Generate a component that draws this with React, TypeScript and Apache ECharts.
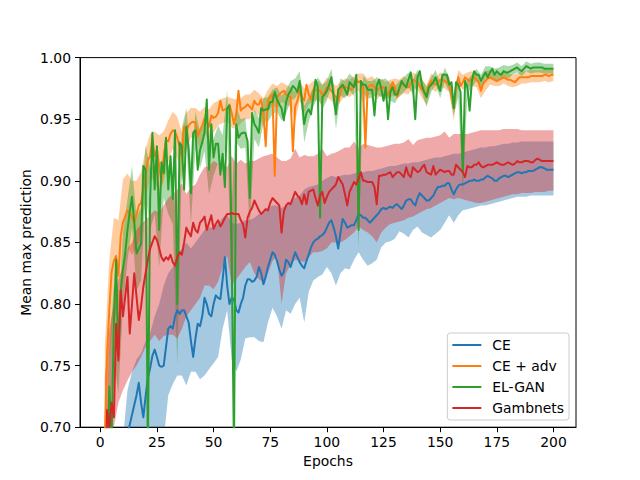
import React, { useEffect, useRef } from "react";
import * as echarts from "echarts";

// ---------- data ----------
const epochs = Array.from({ length: 200 }, (_, i) => i + 1);
const bandEpochs = Array.from({ length: 100 }, (_, i) => 2 * (i + 1));
const xTicks = [0, 25, 50, 75, 100, 125, 150, 175, 200];
const yTicks = [0.7, 0.75, 0.8, 0.85, 0.9, 0.95, 1.0];
const seriesNames = ["CE", "CE + adv", "EL-GAN", "Gambnets"];
const colors = ["#1f77b4", "#ff7f0e", "#2ca02c", "#d62728"];
const bandColors = ["rgba(31,119,180,0.4)", "rgba(255,127,14,0.4)", "rgba(44,160,44,0.4)", "rgba(214,39,40,0.4)"];

// CE mean (epochs 1..200)
const ce = [
  0.52,0.56,0.59,0.61,0.63,0.645,0.655,0.665,0.672,0.68,
  0.688,0.694,0.702,0.71,0.718,0.726,0.736,0.72,0.708,0.725,
  0.74,0.748,0.758,0.763,0.757,0.75,0.749,0.75,0.765,0.78,
  0.782,0.78,0.79,0.795,0.792,0.795,0.795,0.79,0.785,0.77,
  0.757,0.772,0.784,0.782,0.79,0.805,0.8,0.792,0.79,0.8,
  0.807,0.805,0.804,0.82,0.838,0.815,0.8,0.805,0.804,0.795,
  0.793,0.8,0.805,0.815,0.82,0.82,0.818,0.819,0.822,0.83,
  0.825,0.816,0.822,0.83,0.836,0.842,0.84,0.835,0.828,0.823,
  0.826,0.836,0.834,0.83,0.836,0.842,0.838,0.834,0.831,0.829,
  0.835,0.84,0.846,0.85,0.852,0.853,0.855,0.856,0.858,0.862,
  0.866,0.868,0.862,0.855,0.845,0.858,0.869,0.866,0.862,0.863,
  0.864,0.864,0.868,0.873,0.872,0.87,0.87,0.868,0.866,0.868,
  0.87,0.872,0.874,0.877,0.878,0.877,0.878,0.879,0.878,0.88,
  0.881,0.879,0.877,0.88,0.884,0.885,0.885,0.882,0.88,0.886,
  0.89,0.888,0.886,0.884,0.884,0.886,0.888,0.892,0.895,0.895,
  0.896,0.896,0.898,0.898,0.893,0.889,0.893,0.896,0.897,0.897,
  0.898,0.899,0.9,0.9,0.901,0.9,0.9,0.901,0.901,0.903,
  0.904,0.903,0.902,0.9,0.9,0.902,0.903,0.904,0.904,0.903,
  0.904,0.905,0.906,0.907,0.907,0.906,0.907,0.907,0.908,0.908,
  0.908,0.909,0.91,0.911,0.911,0.91,0.909,0.909,0.909,0.909,
];

// CE + adv mean
const adv = [
  0.62,0.69,0.76,0.796,0.826,0.835,0.839,0.823,0.855,0.866,
  0.871,0.876,0.874,0.87,0.866,0.873,0.88,0.882,0.893,0.906,
  0.917,0.92,0.935,0.92,0.925,0.912,0.898,0.92,0.933,0.932,
  0.938,0.941,0.94,0.935,0.928,0.919,0.944,0.94,0.945,0.947,
  0.948,0.947,0.936,0.941,0.945,0.95,0.948,0.944,0.953,0.951,
  0.952,0.955,0.965,0.957,0.958,0.958,0.962,0.955,0.946,0.954,
  0.973,0.957,0.959,0.96,0.962,0.96,0.958,0.965,0.962,0.962,
  0.966,0.955,0.928,0.965,0.968,0.97,0.904,0.968,0.97,0.972,
  0.973,0.97,0.969,0.968,0.924,0.96,0.965,0.973,0.968,0.965,
  0.978,0.97,0.966,0.973,0.974,0.973,0.973,0.97,0.972,0.976,
  0.975,0.973,0.97,0.968,0.965,0.972,0.977,0.976,0.976,0.975,
  0.974,0.978,0.982,0.98,0.981,0.975,0.927,0.976,0.977,0.978,
  0.976,0.973,0.975,0.976,0.976,0.973,0.97,0.975,0.98,0.976,
  0.968,0.975,0.98,0.978,0.976,0.976,0.979,0.982,0.981,0.98,
  0.977,0.974,0.972,0.97,0.978,0.981,0.979,0.978,0.98,0.982,
  0.982,0.981,0.98,0.978,0.97,0.959,0.977,0.984,0.977,0.98,
  0.984,0.982,0.981,0.983,0.984,0.982,0.98,0.973,0.979,0.981,
  0.983,0.984,0.983,0.982,0.981,0.982,0.983,0.984,0.983,0.982,
  0.982,0.981,0.98,0.982,0.984,0.984,0.984,0.984,0.984,0.985,
  0.985,0.985,0.985,0.985,0.985,0.986,0.986,0.985,0.986,0.986,
];

// EL-GAN mean
const elgan = [
  0.5,0.6,0.65,0.733,0.69,0.786,0.836,0.757,0.81,0.828,
  0.841,0.86,0.875,0.887,0.866,0.841,0.845,0.849,0.912,0.909,
  0.68,0.885,0.939,0.893,0.928,0.86,0.915,0.906,0.935,0.893,
  0.92,0.885,0.941,0.8,0.931,0.928,0.893,0.944,0.925,0.89,
  0.939,0.941,0.909,0.925,0.931,0.939,0.966,0.909,0.946,0.919,
  0.93,0.93,0.905,0.922,0.895,0.959,0.961,0.84,0.68,0.946,
  0.935,0.938,0.939,0.939,0.932,0.886,0.955,0.946,0.943,0.939,
  0.959,0.957,0.958,0.958,0.964,0.964,0.972,0.966,0.962,0.959,
  0.949,0.964,0.97,0.973,0.977,0.975,0.972,0.981,0.965,0.946,
  0.955,0.958,0.954,0.968,0.982,0.976,0.87,0.968,0.97,0.973,
  0.978,0.984,0.968,0.954,0.974,0.976,0.978,0.974,0.97,0.98,
  0.978,0.976,0.986,0.86,0.981,0.978,0.978,0.974,0.974,0.974,
  0.953,0.977,0.982,0.975,0.965,0.976,0.95,0.972,0.976,0.97,
  0.97,0.975,0.981,0.978,0.976,0.982,0.988,0.976,0.95,0.984,
  0.989,0.977,0.972,0.968,0.976,0.978,0.98,0.984,0.978,0.973,
  0.986,0.986,0.986,0.978,0.98,0.959,0.98,0.978,0.972,0.908,
  0.981,0.976,0.957,0.981,0.989,0.986,0.986,0.981,0.985,0.988,
  0.984,0.988,0.991,0.986,0.989,0.987,0.986,0.989,0.988,0.988,
  0.989,0.99,0.991,0.992,0.99,0.989,0.991,0.993,0.992,0.991,
  0.992,0.992,0.992,0.992,0.992,0.991,0.991,0.991,0.991,0.991,
];

// Gambnets mean
const gamb = [
  0.55,0.62,0.714,0.7,0.72,0.708,0.784,0.754,0.811,0.79,
  0.806,0.822,0.776,0.8,0.825,0.806,0.787,0.798,0.814,0.825,
  0.836,0.845,0.85,0.855,0.852,0.845,0.838,0.835,0.838,0.836,
  0.84,0.834,0.831,0.838,0.842,0.84,0.85,0.862,0.858,0.855,
  0.866,0.86,0.858,0.866,0.868,0.871,0.86,0.866,0.872,0.861,
  0.865,0.868,0.863,0.866,0.87,0.873,0.873,0.874,0.873,0.873,
  0.873,0.868,0.865,0.854,0.87,0.875,0.878,0.884,0.88,0.876,
  0.873,0.875,0.877,0.876,0.882,0.886,0.884,0.882,0.88,0.858,
  0.875,0.88,0.882,0.881,0.886,0.891,0.888,0.886,0.881,0.889,
  0.881,0.891,0.892,0.893,0.886,0.88,0.888,0.891,0.882,0.887,
  0.891,0.893,0.895,0.897,0.903,0.9,0.897,0.889,0.88,0.891,
  0.895,0.899,0.897,0.902,0.907,0.9,0.9,0.899,0.899,0.899,
  0.895,0.881,0.904,0.904,0.905,0.905,0.906,0.907,0.903,0.905,
  0.907,0.907,0.905,0.903,0.911,0.905,0.903,0.911,0.909,0.907,
  0.908,0.911,0.913,0.907,0.906,0.905,0.912,0.905,0.907,0.909,
  0.908,0.907,0.908,0.908,0.905,0.905,0.913,0.911,0.909,0.907,
  0.903,0.912,0.911,0.911,0.913,0.913,0.915,0.912,0.911,0.912,
  0.913,0.913,0.913,0.914,0.915,0.914,0.913,0.913,0.914,0.915,
  0.914,0.913,0.914,0.916,0.915,0.915,0.916,0.916,0.916,0.915,
  0.915,0.917,0.918,0.917,0.916,0.916,0.916,0.916,0.916,0.916,
];

// Band edges at even epochs 2..200
const ceLo = [
  0.42,0.48,0.52,0.55,0.57,0.59,0.61,0.63,0.63,0.64,
  0.66,0.67,0.67,0.69,0.726,0.735,0.742,0.742,0.734,0.745,
  0.745,0.739,0.742,0.747,0.752,0.757,0.78,0.795,0.755,0.745,
  0.755,0.772,0.773,0.773,0.77,0.769,0.785,0.797,0.79,0.78,
  0.795,0.792,0.8,0.805,0.785,0.81,0.819,0.822,0.824,0.83,
  0.825,0.815,0.825,0.829,0.828,0.836,0.842,0.836,0.831,0.833,
  0.836,0.846,0.85,0.851,0.853,0.859,0.857,0.854,0.86,0.863,
  0.858,0.856,0.854,0.857,0.86,0.866,0.872,0.866,0.872,0.876,
  0.877,0.878,0.879,0.88,0.88,0.881,0.882,0.883,0.884,0.885,
  0.886,0.887,0.887,0.887,0.888,0.888,0.888,0.888,0.888,0.888,
];
const ceHi = [
  0.55,0.6,0.64,0.67,0.69,0.73,0.745,0.755,0.76,0.77,
  0.776,0.79,0.8,0.815,0.825,0.83,0.84,0.845,0.85,0.845,
  0.85,0.855,0.86,0.862,0.862,0.865,0.87,0.872,0.866,0.865,
  0.866,0.868,0.868,0.87,0.873,0.875,0.878,0.88,0.88,0.878,
  0.88,0.883,0.886,0.888,0.893,0.895,0.896,0.897,0.9,0.902,
  0.904,0.903,0.904,0.905,0.905,0.906,0.907,0.907,0.908,0.908,
  0.909,0.91,0.911,0.912,0.912,0.913,0.914,0.914,0.915,0.915,
  0.916,0.917,0.918,0.919,0.919,0.92,0.921,0.922,0.922,0.923,
  0.924,0.925,0.926,0.927,0.927,0.928,0.928,0.929,0.93,0.93,
  0.931,0.931,0.932,0.932,0.932,0.932,0.932,0.932,0.932,0.932,
];
const gambLo = [
  0.6,0.68,0.7,0.72,0.73,0.738,0.745,0.75,0.757,0.765,
  0.77,0.775,0.77,0.774,0.775,0.775,0.772,0.78,0.79,0.795,
  0.8,0.805,0.815,0.815,0.812,0.818,0.83,0.839,0.815,0.82,
  0.825,0.83,0.834,0.825,0.82,0.818,0.825,0.835,0.839,0.8,
  0.825,0.832,0.836,0.835,0.834,0.838,0.842,0.842,0.843,0.845,
  0.85,0.85,0.85,0.852,0.855,0.858,0.863,0.86,0.858,0.855,
  0.85,0.858,0.862,0.865,0.866,0.867,0.868,0.87,0.871,0.873,
  0.875,0.877,0.878,0.88,0.882,0.884,0.886,0.885,0.886,0.885,
  0.884,0.883,0.882,0.882,0.883,0.884,0.885,0.886,0.887,0.888,
  0.889,0.889,0.89,0.89,0.89,0.891,0.891,0.891,0.892,0.892,
];
const gambHi = [
  0.74,0.78,0.8,0.82,0.83,0.845,0.85,0.86,0.865,0.868,
  0.872,0.876,0.874,0.88,0.886,0.889,0.893,0.898,0.889,0.895,
  0.897,0.905,0.911,0.912,0.916,0.914,0.912,0.911,0.92,0.914,
  0.917,0.914,0.916,0.916,0.918,0.92,0.921,0.922,0.919,0.916,
  0.916,0.918,0.926,0.919,0.921,0.92,0.92,0.922,0.926,0.92,
  0.922,0.923,0.925,0.927,0.927,0.932,0.926,0.93,0.929,0.928,
  0.927,0.927,0.928,0.929,0.93,0.93,0.931,0.934,0.929,0.933,
  0.934,0.935,0.935,0.936,0.937,0.94,0.935,0.938,0.938,0.938,
  0.938,0.939,0.94,0.941,0.941,0.941,0.941,0.941,0.942,0.942,
  0.942,0.942,0.941,0.941,0.941,0.941,0.941,0.941,0.941,0.941,
];
// half-widths of the thin bands, at even epochs 2..200
const advStd = [
  0.075,0.04,0.035,0.045,0.035,0.03,0.03,0.027,0.025,0.02,
  0.018,0.02,0.025,0.02,0.017,0.015,0.017,0.02,0.015,0.012,
  0.012,0.015,0.01,0.014,0.012,0.01,0.01,0.01,0.012,0.012,
  0.01,0.01,0.01,0.009,0.009,0.012,0.009,0.009,0.009,0.008,
  0.008,0.008,0.012,0.008,0.01,0.008,0.008,0.008,0.008,0.008,
  0.008,0.009,0.008,0.007,0.007,0.007,0.007,0.012,0.007,0.007,
  0.007,0.007,0.007,0.007,0.007,0.007,0.007,0.006,0.006,0.006,
  0.007,0.008,0.006,0.006,0.006,0.006,0.006,0.01,0.006,0.006,
  0.006,0.006,0.006,0.006,0.008,0.006,0.005,0.005,0.005,0.005,
  0.005,0.005,0.005,0.005,0.005,0.005,0.005,0.005,0.005,0.005,
];
const elganStd = [
  0.04,0.03,0.03,0.03,0.03,0.025,0.025,0.03,0.03,0.02,
  0.025,0.02,0.03,0.02,0.02,0.02,0.05,0.015,0.015,0.025,
  0.015,0.015,0.015,0.02,0.015,0.015,0.015,0.015,0.04,0.015,
  0.012,0.012,0.025,0.012,0.012,0.01,0.01,0.01,0.01,0.01,
  0.01,0.008,0.008,0.008,0.015,0.01,0.008,0.008,0.01,0.008,
  0.007,0.012,0.007,0.007,0.007,0.007,0.015,0.007,0.007,0.007,
  0.007,0.007,0.007,0.007,0.007,0.006,0.006,0.006,0.006,0.006,
  0.006,0.008,0.006,0.006,0.006,0.006,0.006,0.006,0.01,0.02,
  0.006,0.005,0.005,0.005,0.005,0.005,0.005,0.005,0.005,0.005,
  0.004,0.004,0.004,0.004,0.004,0.004,0.004,0.004,0.004,0.004,
];

const FONT = "DejaVu Sans";
const FS = 13.9;

function bandSeries(name: string, fill: string, lo: number[], hi: number[]) {
  const data = bandEpochs.map((e, i) => [e, lo[i], hi[i]]);
  return {
    type: "custom",
    name,
    z: 1,
    silent: true,
    encode: { x: 0, y: [1, 2] },
    data,
    renderItem: (params: any, api: any) => {
      if (params.dataIndex !== 0) return null;
      const top = data.map((d) => api.coord([d[0], d[2]]));
      const bot = data.map((d) => api.coord([d[0], d[1]])).reverse();
      const cs = params.coordSys;
      return {
        type: "polygon",
        shape: { points: top.concat(bot) },
        style: { fill, stroke: null },
        clipPath: { type: "rect", shape: { x: cs.x, y: cs.y, width: cs.width, height: cs.height } },
      };
    },
  };
}

function lineSeries(name: string, color: string, values: number[]) {
  return {
    type: "line",
    name,
    z: 2,
    color,
    showSymbol: false,
    symbol: "none",
    clip: true,
    lineStyle: { width: 2, color, join: "round" },
    data: epochs.map((e, i) => [e, values[i]]),
  };
}

export default function App() {
  const ref = useRef<HTMLDivElement>(null);
  useEffect(() => {
    if (!ref.current) return;
    const chart = echarts.init(ref.current, undefined, { renderer: "svg" });
    const advLo = bandEpochs.map((e, i) => adv[e - 1] - advStd[i]);
    const advHi = bandEpochs.map((e, i) => adv[e - 1] + advStd[i]);
    const ganLo = bandEpochs.map((e, i) => elgan[e - 1] - elganStd[i]);
    const ganHi = bandEpochs.map((e, i) => elgan[e - 1] + elganStd[i]);
    chart.setOption({
      animation: false,
      backgroundColor: "#ffffff",
      textStyle: { fontFamily: FONT },
      grid: {
        left: 80,
        top: 57.6,
        width: 496,
        height: 369.6,
        show: true,
        borderColor: "#000",
        borderWidth: 1,
        backgroundColor: "transparent",
      },
      legend: {
        data: seriesNames,
        orient: "vertical",
        right: 71,
        bottom: 60,
        icon: "rect",
        itemWidth: 29,
        itemHeight: 2,
        itemGap: 5,
        padding: [4, 5, 4, 5],
        borderColor: "#cccccc",
        borderWidth: 1,
        borderRadius: 3,
        backgroundColor: "rgba(255,255,255,0.8)",
        textStyle: { fontFamily: FONT, fontSize: FS, color: "#000", lineHeight: 16, padding: [0, 0, 0, 6] },
      },
      xAxis: {
        type: "value",
        min: -8.95,
        max: 209.95,
        name: "Epochs",
        nameLocation: "middle",
        nameGap: 27,
        nameTextStyle: { fontFamily: FONT, fontSize: FS, color: "#000" },
        axisLine: { onZero: false, lineStyle: { color: "#000", width: 1 } },
        axisTick: { show: true, length: 5, customValues: xTicks, lineStyle: { color: "#000", width: 1 } },
        axisLabel: { customValues: xTicks, margin: 8, fontFamily: FONT, fontSize: FS, color: "#000" },
        splitLine: { show: false },
      },
      yAxis: {
        type: "value",
        min: 0.7,
        max: 1.0,
        name: "Mean max prediction",
        nameLocation: "middle",
        nameGap: 47,
        nameMoveOverlap: false,
        nameTextStyle: { fontFamily: FONT, fontSize: FS, color: "#000" },
        axisLine: { show: true, onZero: false, lineStyle: { color: "#000", width: 1 } },
        axisTick: { show: true, length: 5, customValues: yTicks, lineStyle: { color: "#000", width: 1 } },
        axisLabel: {
          customValues: yTicks,
          margin: 9,
          fontFamily: FONT,
          fontSize: FS,
          color: "#000",
          formatter: (v: number) => v.toFixed(2),
        },
        splitLine: { show: false },
      },
      series: [
        bandSeries("CE band", bandColors[0], ceLo, ceHi),
        bandSeries("CE + adv band", bandColors[1], advLo, advHi),
        bandSeries("EL-GAN band", bandColors[2], ganLo, ganHi),
        bandSeries("Gambnets band", bandColors[3], gambLo, gambHi),
        lineSeries(seriesNames[0], colors[0], ce),
        lineSeries(seriesNames[1], colors[1], adv),
        lineSeries(seriesNames[2], colors[2], elgan),
        lineSeries(seriesNames[3], colors[3], gamb),
      ],
    });
    return () => chart.dispose();
  }, []);
  return (
    <div
      ref={ref}
      style={{ position: "fixed", left: 0, top: 0, width: 640, height: 480, background: "#fff" }}
    />
  );
}
